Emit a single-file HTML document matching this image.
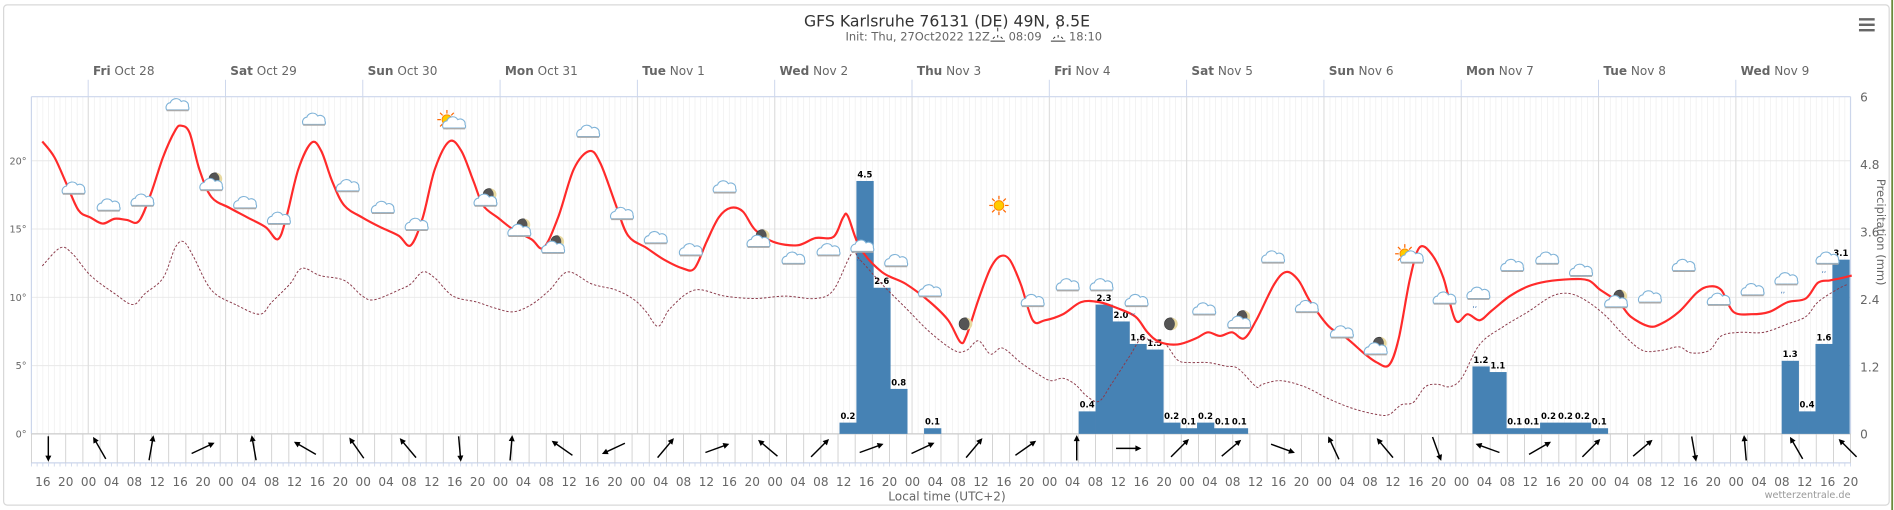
<!DOCTYPE html>
<html><head><meta charset="utf-8">
<style>
html,body{margin:0;padding:0;background:#fff;width:1894px;height:510px;overflow:hidden}
svg{display:block;font-family:"DejaVu Sans","Liberation Sans",sans-serif}
</style></head>
<body>
<svg id="s" width="1894" height="510" viewBox="0 0 1568 422" preserveAspectRatio="none" xmlns="http://www.w3.org/2000/svg">
<rect x="3" y="4" width="1561" height="414" rx="3" fill="#fff" stroke="#d8d8d8" stroke-width="1"/>
<line x1="1566.5" y1="0" x2="1566.5" y2="422" stroke="#6a8a3a" stroke-width="1.5"/>
<g id="grid"></g>
<g id="bars"></g>
<g id="lines"></g>
<g id="icons"></g>
<g id="wind"></g>
<g id="txt" fill="#666" font-size="10"></g>
<text x="784" y="22" text-anchor="middle" font-size="13" fill="#333">GFS Karlsruhe 76131 (DE) 49N, 8.5E</text>
<text x="700" y="33.5" font-size="9.5" fill="#666">Init: Thu, 27Oct2022 12Z</text>
<text x="835" y="33.5" font-size="9.5" fill="#666">08:09</text>
<text x="885" y="33.5" font-size="9.5" fill="#666">18:10</text>
<g stroke="#333" fill="none" stroke-width="0.8"><path d="M820 34 h12 M822 32 l1.5 -1.5 M830 32 l-1.5 -1.5 M826 31 v-2 M826 26 v-3"/><path d="M870 34 h12 M872 32 l1.5 -1.5 M880 32 l-1.5 -1.5 M876 31 v-2 M876 24 v-4"/></g>
<g fill="#666"><rect x="1539" y="15" width="13" height="2" /><rect x="1539" y="19.5" width="13" height="2"/><rect x="1539" y="24" width="13" height="2"/></g>
<text x="784" y="414" text-anchor="middle" font-size="10" fill="#666">Local time (UTC+2)</text>
<text x="1532" y="412" text-anchor="end" font-size="8" fill="#999">wetterzentrale.de</text>
<text transform="translate(1554,148) rotate(90)" font-size="9.5" fill="#666">Precipitation (mm)</text>
</svg>
<script>
const NS="http://www.w3.org/2000/svg";
function el(p,t,a,txt){const e=document.createElementNS(NS,t);for(const k in a)e.setAttribute(k,a[k]);if(txt!==undefined)e.textContent=txt;document.getElementById(p).appendChild(e);return e;}
const L=26,R=1532,T=80,Z=359,PH=4.736,FRI=73,DAY=113.67;
for(let h=0;h<=318;h++){const x=L+h*PH;el('grid','line',{x1:x,y1:T,x2:x,y2:Z,stroke:'#efefef','stroke-width':0.6});}
[0,5,10,15,20].forEach(t=>{const y=Z-t*11.3;el('grid','line',{x1:L,y1:y,x2:R,y2:y,stroke:'#e8e8e8','stroke-width':0.8});el('txt','text',{x:22,y:y+3,'text-anchor':'end','font-size':8},t+'°');});
['6','4.8','3.6','2.4','1.2','0'].forEach((v,i)=>{const y=T+i*(Z-T)/5;el('txt','text',{x:1540,y:y+4,'font-size':10},v);});
const days=[['Fri','Oct 28'],['Sat','Oct 29'],['Sun','Oct 30'],['Mon','Oct 31'],['Tue','Nov 1'],['Wed','Nov 2'],['Thu','Nov 3'],['Fri','Nov 4'],['Sat','Nov 5'],['Sun','Nov 6'],['Mon','Nov 7'],['Tue','Nov 8'],['Wed','Nov 9']];
days.forEach((d,i)=>{const x=FRI+i*DAY;el('grid','line',{x1:x,y1:66,x2:x,y2:T,stroke:'#ccd6eb','stroke-width':0.8});el('grid','line',{x1:x,y1:T,x2:x,y2:Z,stroke:'#dcdcdc','stroke-width':0.8});
const t=el('txt','text',{x:x+4,y:62,'font-size':10});const b=document.createElementNS(NS,'tspan');b.setAttribute('font-weight','bold');b.textContent=d[0];t.appendChild(b);const s=document.createElementNS(NS,'tspan');s.textContent=' '+d[1];t.appendChild(s);});
el('grid','line',{x1:L,y1:T,x2:R,y2:T,stroke:'#ccd6eb','stroke-width':1});
el('grid','line',{x1:R,y1:T,x2:R,y2:Z,stroke:'#ccd6eb','stroke-width':1});
el('grid','line',{x1:L,y1:T,x2:L,y2:Z,stroke:'#ccd6eb','stroke-width':1});
el('grid','line',{x1:L,y1:Z,x2:R,y2:Z,stroke:'#ccc','stroke-width':1});
el('grid','line',{x1:L,y1:383,x2:R,y2:383,stroke:'#ccd6eb','stroke-width':1});
for(let h=0;h<=318;h+=3){const x=L+h*PH;el('grid','line',{x1:x,y1:Z,x2:x,y2:383,stroke:'#ccc','stroke-width':0.7});}
for(let h=0;h<=318;h++){const x=L+h*PH;el('grid','line',{x1:x,y1:383,x2:x,y2:386,stroke:'#ccd6eb','stroke-width':0.7});}
for(let h=2;h<=318;h+=4){const x=L+h*PH;const hr=(14+h)%24;el('txt','text',{x:x,y:402,'text-anchor':'middle','font-size':10},(hr<10?'0':'')+hr);}
const bars=[[695,.2],[709,4.5],[723,2.6],[737,.8],[765,.1],[893,.4],[907,2.3],[921,2.0],[935,1.6],[949,1.5],[963,.2],[977,.1],[991,.2],[1005,.1],[1019,.1],[1219,1.2],[1233,1.1],[1247,.1],[1261,.1],[1275,.2],[1289,.2],[1303,.2],[1317,.1],[1475,1.3],[1489,.4],[1503,1.6],[1517,3.1]];
bars.forEach(b=>{const h=Math.max(b[1]*46.5,2);el('bars','rect',{x:b[0],y:Z-h,width:14.3,height:h,fill:'#4682b4'});
el('bars','text',{x:b[0]+7,y:Z-h-3,'text-anchor':'middle','font-size':7,'font-weight':'bold',fill:'#000',stroke:'#fff','stroke-width':1.5,'paint-order':'stroke'},b[1].toFixed(1));});
const red=[[35,117],[45,130],[55,152],[65,174],[75,180],[85,185],[95,181],[105,182],[115,183],[125,160],[135,130],[145,108],[150,104],[157,110],[165,140],[175,163],[190,172],[205,180],[220,188],[230,198],[237,180],[247,140],[258,118],[266,125],[275,150],[285,170],[300,180],[315,188],[330,195],[340,203],[350,180],[360,140],[372,117],[382,125],[392,150],[400,170],[412,180],[425,190],[440,198],[450,205],[462,180],[475,140],[488,125],[497,135],[510,170],[520,195],[535,205],[550,215],[565,222],[575,222],[585,200],[595,180],[605,172],[615,175],[625,190],[640,200],[660,203],[675,197],[690,196],[698,180],[702,179],[712,205],[730,225],[750,235],[770,250],[785,265],[795,283],[800,278],[810,248],[820,222],[828,212],[836,215],[845,235],[855,265],[865,265],[880,260],[895,250],[910,250],[925,255],[940,262],[950,275],[960,283],[975,285],[990,280],[1000,275],[1010,278],[1020,275],[1030,280],[1040,265],[1055,235],[1065,225],[1075,232],[1085,250],[1100,270],[1115,280],[1130,293],[1140,300],[1150,302],[1158,280],[1167,232],[1175,205],[1185,210],[1195,230],[1205,265],[1215,260],[1225,265],[1235,257],[1250,245],[1265,237],[1280,233],[1300,231],[1315,232],[1325,240],[1340,250],[1350,262],[1365,270],[1375,268],[1390,258],[1405,242],[1415,237],[1425,240],[1435,258],[1450,260],[1465,258],[1480,250],[1495,247],[1505,234],[1515,232],[1525,230],[1533,228]];
const dew=[[35,220],[50,205],[60,210],[75,228],[95,243],[110,252],[120,243],[135,230],[145,205],[152,200],[160,212],[175,240],[195,252],[215,260],[225,250],[240,235],[250,222],[265,228],[285,232],[300,245],[310,248],[330,240],[340,235],[350,225],[360,230],[375,245],[395,250],[410,255],[425,258],[440,252],[455,240],[470,225],[490,235],[510,240],[525,248],[535,258],[545,270],[555,255],[575,240],[600,245],[625,247],[650,245],[675,247],[690,240],[705,210],[712,215],[730,235],[750,255],[770,275],[790,290],[800,290],[810,282],[820,293],[830,288],[845,300],[860,310],[870,315],[880,313],[890,318],[900,328],[910,332],[920,318],[935,295],[945,280],[955,283],[965,285],[975,298],[985,300],[1000,300],[1015,303],[1025,305],[1040,320],[1045,318],[1060,315],[1080,320],[1100,330],[1120,338],[1140,343],[1150,343],[1160,335],[1170,333],[1180,320],[1190,318],[1200,320],[1210,313],[1225,285],[1245,270],[1265,258],[1285,245],[1300,243],[1315,250],[1330,262],[1345,278],[1360,290],[1375,290],[1390,287],[1400,292],[1415,290],[1425,278],[1440,275],[1460,275],[1480,268],[1495,262],[1505,250],[1520,240],[1530,235]];
function smooth(p){let d='M'+p[0][0]+' '+p[0][1];for(let i=0;i<p.length-1;i++){const p0=p[i-1]||p[i],p1=p[i],p2=p[i+1],p3=p[i+2]||p2;const c1=[p1[0]+(p2[0]-p0[0])/6,p1[1]+(p2[1]-p0[1])/6],c2=[p2[0]-(p3[0]-p1[0])/6,p2[1]-(p3[1]-p1[1])/6];d+=` C${c1[0].toFixed(1)} ${c1[1].toFixed(1)} ${c2[0].toFixed(1)} ${c2[1].toFixed(1)} ${p2[0]} ${p2[1]}`;}return d;}
el('lines','path',{d:smooth(dew),fill:'none',stroke:'#8b3a4a','stroke-width':0.8,'stroke-dasharray':'2,1.5'});
el('lines','path',{d:smooth(red),fill:'none',stroke:'#ff2a2a','stroke-width':1.8});
function cloud(x,y){el('icons','path',{d:`M${x-9} ${y+3} a4 4 0 0 1 3-6 a5 5 0 0 1 9-1 a4 4 0 0 1 6 4 a3 3 0 0 1 0 3 z`,fill:'#fff',stroke:'#7fb3d8','stroke-width':0.9});el('icons','line',{x1:x-9,y1:y+3.5,x2:x+9,y2:y+3.5,stroke:'#aaa','stroke-width':1.2});}
function moon(x,y){el('icons','circle',{cx:x,cy:y,r:5,fill:'#555',stroke:'#333','stroke-width':0.5});el('icons','path',{d:`M${x+1} ${y-5} a5 5 0 0 1 0 10 a6 6 0 0 0 0 -10z`,fill:'#e8d9a0'});}
function sun(x,y){for(let a=0;a<360;a+=45){const r=a*Math.PI/180;el('icons','line',{x1:x+Math.cos(r)*5,y1:y+Math.sin(r)*5,x2:x+Math.cos(r)*8,y2:y+Math.sin(r)*8,stroke:'#f60','stroke-width':1});}el('icons','circle',{cx:x,cy:y,r:4,fill:'#fc0',stroke:'#f80','stroke-width':0.8});}
function rain(x,y){cloud(x,y);el('icons','text',{x:x-5,y:y+10,'font-size':6,fill:'#2a6ab0'},'‚‚');}
const ic=[[61,157,'c'],[90,171,'c'],[118,167,'c'],[147,88,'c'],[175,154,'mc'],[203,169,'c'],[231,182,'c'],[260,100,'c'],[288,155,'c'],[317,173,'c'],[345,187,'c'],[373,102,'s'],[402,167,'mc'],[430,192,'mc'],[458,206,'mc'],[487,110,'c'],[515,178,'c'],[543,198,'c'],[572,208,'c'],[600,156,'c'],[628,201,'mc'],[657,215,'c'],[686,208,'c'],[714,205,'r'],[742,217,'c'],[770,242,'c'],[799,268,'m'],[827,170,'S'],[855,250,'c'],[884,237,'c'],[912,237,'c'],[941,250,'r'],[969,268,'m'],[997,257,'c'],[1026,268,'mc'],[1054,214,'c'],[1082,255,'c'],[1111,276,'c'],[1139,290,'mc'],[1167,213,'sc'],[1196,248,'c'],[1224,244,'r'],[1252,221,'c'],[1281,215,'c'],[1309,225,'c'],[1338,251,'mc'],[1366,247,'c'],[1394,221,'c'],[1423,249,'c'],[1451,241,'c'],[1479,232,'r'],[1513,215,'r']];
ic.forEach(i=>{const[x,y,t]=i;if(t=='c')cloud(x,y);else if(t=='r')rain(x,y);else if(t=='m')moon(x,y);else if(t=='mc'){moon(x+3,y-6);cloud(x,y);}else if(t=='S')sun(x,y);else if(t=='s'){sun(x-3,y-3);cloud(x+3,y+1);}else if(t=='sc'){sun(x-4,y-3);cloud(x+2,y+1);}});
const wa=[180,-30,10,65,-10,-60,-35,-40,175,5,-55,-115,40,70,-50,45,70,65,40,55,0,90,45,50,110,-25,-40,160,-70,60,45,50,170,-5,-30,-45];
wa.forEach((a,i)=>{const x=40+i*42.57,y=371;const g=el('wind','g',{transform:`translate(${x},${y}) rotate(${a})`});
const l=document.createElementNS(NS,'line');l.setAttribute('x1',0);l.setAttribute('y1',10);l.setAttribute('x2',0);l.setAttribute('y2',-9);l.setAttribute('stroke','#000');l.setAttribute('stroke-width',1.2);g.appendChild(l);
const p=document.createElementNS(NS,'path');p.setAttribute('d','M0 -11 L-2.5 -6 L2.5 -6 Z');p.setAttribute('fill','#000');g.appendChild(p);});
</script>
</body></html>
